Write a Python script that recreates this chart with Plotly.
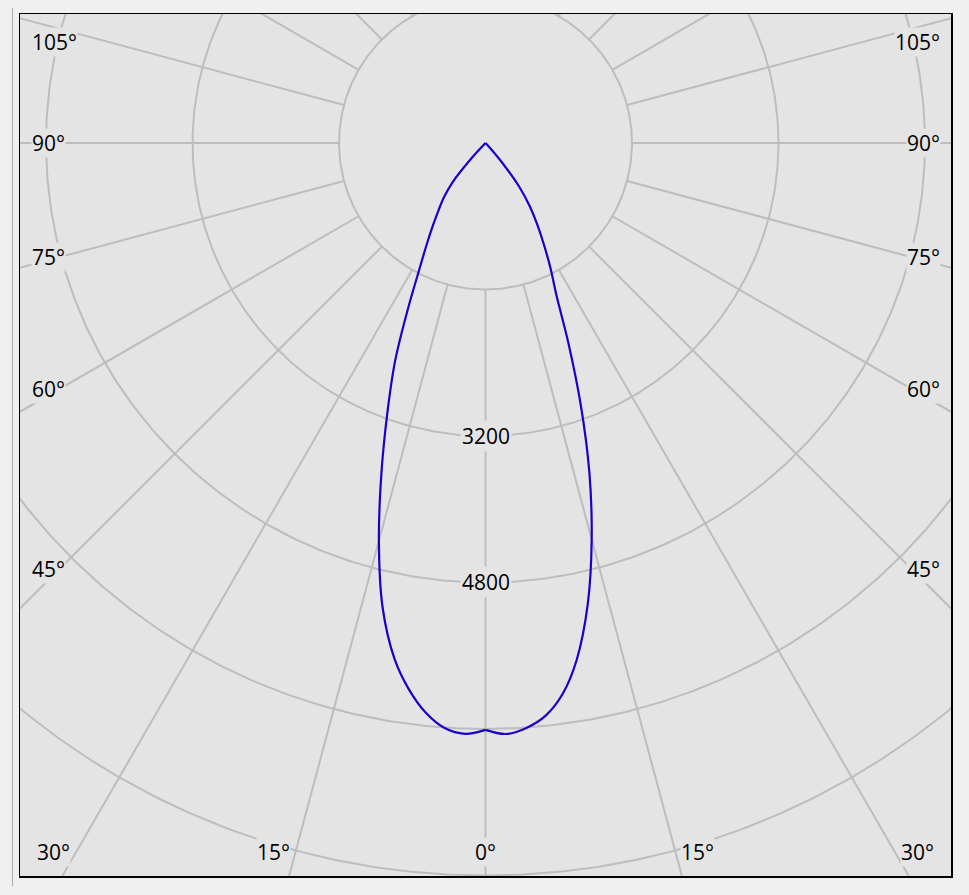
import numpy as np
import plotly.graph_objects as go

# ---- data (luminous intensity) ----
angles = [0, 2, 4, 6, 8, 10, 12.5, 15, 17.5, 20, 22.5, 25, 27.5, 30, 32.5, 35, 37.5, 40, 42.5, 45, 60, 75, 90]
intensity_right = [6410, 6459, 6404, 6289, 6072, 5734, 5160, 4481, 3773, 3040, 2367, 1832, 1535, 1270, 1047, 841, 616, 310, 60, 0, 0, 0, 0]
intensity_left = [6410, 6457, 6406, 6255, 6023, 5722, 5194, 4499, 3780, 3132, 2582, 2012, 1576, 1290, 1068, 891, 741, 560, 230, 0, 0, 0, 0]

ring_values = [1600, 3200, 4800, 6400, 8000, 9600]
ring_labels = ["3200", "4800"]
angle_labels = [0, 15, 30, 45, 60, 75, 90, 105]
ray_step = 15

# ---- view window (data units) ----
X_MIN, X_MAX = -5084, 5084
Y_MIN, Y_MAX = -8006, 1409
PX = (X_MAX - X_MIN) / 931.0  # data units per pixel

grid_color = "#bdbdbd"
bg_plot = "#e4e4e4"
bg_paper = "#f0f0f0"
curve_color = "#1a00c8"

fig = go.Figure()

# rings
t = np.linspace(0, 2 * np.pi, 721)
for rv in ring_values:
    fig.add_trace(go.Scatter(x=rv * np.sin(t), y=-rv * np.cos(t), mode="lines",
                             line=dict(color=grid_color, width=2), hoverinfo="skip", showlegend=False))

# rays (start at the first ring)
r_in, r_out = ring_values[0], ring_values[-1] * 1.2
for a in range(0, 360, ray_step):
    th = np.radians(a)
    fig.add_trace(go.Scatter(x=[r_in * np.sin(th), r_out * np.sin(th)],
                             y=[-r_in * np.cos(th), -r_out * np.cos(th)], mode="lines",
                             line=dict(color=grid_color, width=2), hoverinfo="skip", showlegend=False))


# intensity curve: each half drawn from 0° up to where the intensity reaches zero
def half(values, sign):
    xs, ys = [], []
    for a, v in zip(angles, values):
        th = np.radians(a)
        xs.append(sign * v * np.sin(th))
        ys.append(-v * np.cos(th))
        if v == 0:
            break
    return xs, ys


for vals, sgn in ((intensity_left, -1), (intensity_right, 1)):
    xs, ys = half(vals, sgn)
    fig.add_trace(go.Scatter(x=xs, y=ys, mode="lines",
                             line=dict(color=curve_color, width=2.2, shape="spline", smoothing=1.0),
                             hoverinfo="skip", showlegend=False))

font = dict(family="Open Sans, Noto Sans, sans-serif", size=21, color="#000000")
ann = []
# ring value labels along the 0° ray
for lab in ring_labels:
    ann.append(dict(x=0, y=-float(lab), text=lab, showarrow=False, font=font,
                    bgcolor=bg_plot, borderpad=1, xanchor="center", yanchor="middle"))

# angle labels where the rays leave the frame
side_x = 426 * PX
bottom_y = -(852 - 143) * PX
top_y = (143 - 42) * PX
for a in angle_labels:
    th = np.radians(a)
    for sgn in ([1] if a == 0 else [-1, 1]):
        hits_side = a >= 90 or (a != 0 and abs(bottom_y) * np.tan(th) > side_x)
        if hits_side:
            y = -side_x * np.cos(th) / np.sin(th)
            y = min(y, top_y)
            if sgn < 0:
                ann.append(dict(x=X_MIN, y=y, text=f"{a}°", showarrow=False, font=font, bgcolor=bg_plot,
                                borderpad=0, xanchor="left", yanchor="middle", xshift=11))
            else:
                ann.append(dict(x=X_MAX, y=y, text=f"{a}°", showarrow=False, font=font, bgcolor=bg_plot,
                                borderpad=0, xanchor="right", yanchor="middle", xshift=-10))
        else:
            x = sgn * abs(bottom_y) * np.tan(th)
            if a == 0:
                xa, xs = "center", 0
            elif sgn < 0:
                xa, xs = "right", -5
            else:
                xa, xs = "left", 5
            ann.append(dict(x=x, y=bottom_y, text=f"{a}°", showarrow=False, font=font, bgcolor=bg_plot,
                            borderpad=0, xanchor=xa, yanchor="middle", xshift=xs))

fig.update_layout(
    width=969, height=895, autosize=False,
    margin=dict(l=20, r=18, t=14, b=19, pad=0),
    paper_bgcolor=bg_paper, plot_bgcolor=bg_plot,
    annotations=ann,
    xaxis=dict(range=[X_MIN, X_MAX], showgrid=False, zeroline=False, showticklabels=False,
               showline=True, mirror=True, linecolor="#000000", linewidth=1.5, ticks=""),
    yaxis=dict(range=[Y_MIN, Y_MAX], showgrid=False, zeroline=False, showticklabels=False,
               showline=True, mirror=True, linecolor="#000000", linewidth=1.5, ticks="",
               scaleanchor="x", scaleratio=1),
    shapes=[dict(type="line", xref="paper", yref="paper", x0=-0.008, x1=-0.008, y0=-0.012, y1=1.007,
                 line=dict(color="#a8a8a8", width=1))],
)

fig.write_html("out.html", config={"displayModeBar": False, "staticPlot": True},
               post_script="document.body.style.margin='0';")
